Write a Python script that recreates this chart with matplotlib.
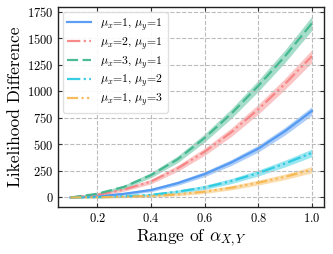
import matplotlib
matplotlib.use("Agg")
import matplotlib.pyplot as plt
import numpy as np

plt.rcParams["font.family"] = "serif"
plt.rcParams["font.serif"] = ["cmr10", "DejaVu Serif"]
plt.rcParams["mathtext.fontset"] = "cm"
plt.rcParams["axes.formatter.use_mathtext"] = True

alpha = [0.1, 0.2, 0.3, 0.4, 0.5, 0.6, 0.7, 0.8, 0.9, 1.0]

labels = [
    r"$\mu_x$=1, $\mu_y$=1",
    r"$\mu_x$=2, $\mu_y$=1",
    r"$\mu_x$=3, $\mu_y$=1",
    r"$\mu_x$=1, $\mu_y$=2",
    r"$\mu_x$=1, $\mu_y$=3",
]
means = [
    [0, 10, 35, 70, 135, 220, 330, 460, 625, 815],
    [0, 25, 75, 150, 275, 430, 615, 830, 1070, 1330],
    [0, 35, 100, 210, 360, 560, 790, 1050, 1330, 1640],
    [0, 3, 12, 25, 55, 95, 155, 230, 320, 420],
    [0, 2, 7, 15, 30, 55, 92, 140, 195, 262],
]
stds = [
    [4, 8, 12, 16, 20, 24, 28, 32, 36, 40],
    [4, 10, 16, 22, 28, 34, 40, 46, 52, 60],
    [4, 10, 17, 24, 31, 38, 45, 52, 59, 66],
    [4, 7, 10, 13, 16, 20, 24, 28, 32, 36],
    [4, 6, 9, 11, 14, 17, 20, 23, 26, 30],
]

colors = ["#4a94f2", "#f77f7f", "#3ab58a", "#22c8e0", "#f7b54a"]
dashes = [None, (6, 1.5, 1, 1.5, 1, 1.5), (5, 2), (6, 1.5, 1, 1.5, 1, 1.5), (5, 1.5, 1, 1.5, 1, 1.5, 1, 1.5)]

fig, ax = plt.subplots(figsize=(3.33, 2.54), dpi=100)
x = np.array(alpha)
for m, s, c, d, lab in zip(means, stds, colors, dashes, labels):
    m = np.array(m, dtype=float)
    s = np.array(s, dtype=float)
    ax.fill_between(x, m - s, m + s, color=c, alpha=0.45, linewidth=0)
    line, = ax.plot(x, m, color=c, linewidth=1.6, alpha=0.9, label=lab)
    if d is not None:
        line.set_dashes(d)

ax.set_xticks([0.2, 0.4, 0.6, 0.8, 1.0])
ax.set_yticks([0, 250, 500, 750, 1000, 1250, 1500, 1750])
ax.tick_params(direction="in", top=True, right=True, labelsize=9, length=3, color="#333333")
ax.grid(True, linestyle="--", color="#bbbbbb", linewidth=0.8)
for sp in ax.spines.values():
    sp.set_color("#222222")
    sp.set_linewidth(1.0)
ax.set_xlabel(r"Range of $\alpha_{X,Y}$", fontsize=12.5, labelpad=2)
ax.set_ylabel("Likelihood Difference", fontsize=12.5, labelpad=3)
ax.legend(loc="upper left", fontsize=8.5, framealpha=0.9, edgecolor="#dddddd",
          borderpad=0.35, labelspacing=0.2, handlelength=2.0, handletextpad=0.8,
          borderaxespad=0.4)
fig.subplots_adjust(left=0.175, right=0.973, top=0.972, bottom=0.185)
fig.savefig("out.png")
